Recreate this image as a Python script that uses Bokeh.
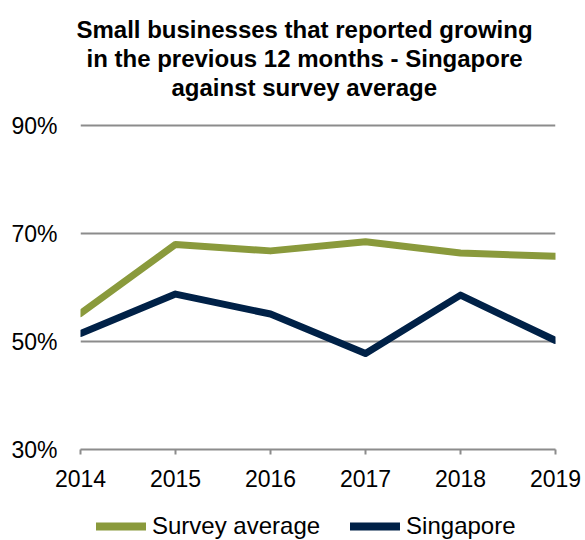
from bokeh.plotting import figure
from bokeh.layouts import column
from bokeh.models import Title, Legend, LegendItem, FixedTicker, PrintfTickFormatter, Range1d
from bokeh.embed import file_html
from bokeh.resources import INLINE

years = [2014, 2015, 2016, 2017, 2018, 2019]
survey_average = [55.2, 68.0, 66.8, 68.5, 66.4, 65.8]
singapore = [51.5, 58.8, 55.1, 47.8, 58.6, 50.2]
y_ticks = [30, 50, 70, 90]
series_names = ["Survey average", "Singapore"]
title_lines = [
    "Small businesses that reported growing",
    "in the previous 12 months - Singapore",
    "against survey average",
]
# horizontal offsets (px from the frame's left edge) so each line is centred at ~x=303
title_offsets = [-4, 6, 91]

GREEN = "#8A9A3C"
NAVY = "#002147"
GRID = "#8C8C8C"
FONT = "Liberation Sans"

p = figure(frame_width=475, frame_height=326, output_backend="svg", toolbar_location=None,
           x_range=Range1d(2014, 2019), y_range=Range1d(30, 90.4),
           min_border_left=80, min_border_right=30, min_border_top=123,
           min_border_bottom=0)
p.outline_line_color = None
p.background_fill_color = "white"
p.border_fill_color = "white"

def title_style(i):
    return dict(text=title_lines[i], align="left", offset=title_offsets[i],
                text_font=FONT, text_font_size="24px", text_font_style="bold",
                text_color="#000000", standoff=0)

# outermost line is the figure's own title; others are stacked from the frame outwards
p.title = Title(**title_style(0))
p.add_layout(Title(text=" ", text_font=FONT, text_font_size="19px", standoff=0), "above")
p.add_layout(Title(**title_style(2)), "above")
p.add_layout(Title(**title_style(1)), "above")

lines_style = dict(line_width=7, line_join="round", line_cap="round")
p.line(years, survey_average, line_color=GREEN, **lines_style)
p.line(years, singapore, line_color=NAVY, **lines_style)

# axes
p.xaxis.ticker = FixedTicker(ticks=years)
p.xaxis.axis_line_color = GRID
p.xaxis.axis_line_width = 2
p.xaxis.major_tick_line_color = GRID
p.xaxis.major_tick_line_width = 2
p.xaxis.major_tick_out = 5
p.xaxis.major_tick_in = 0
p.xaxis.minor_tick_line_color = None
p.xaxis.major_label_text_font = FONT
p.xaxis.major_label_text_font_size = "23px"
p.xaxis.major_label_text_color = "#000000"
p.xaxis.major_label_standoff = 15

p.yaxis.ticker = FixedTicker(ticks=y_ticks)
p.yaxis.formatter = PrintfTickFormatter(format="%d%%")
p.yaxis.axis_line_color = None
p.yaxis.major_tick_line_color = None
p.yaxis.minor_tick_line_color = None
p.yaxis.major_label_text_font = FONT
p.yaxis.major_label_text_font_size = "23px"
p.yaxis.major_label_text_color = "#000000"
p.yaxis.major_label_standoff = 17

p.xgrid.grid_line_color = None
p.ygrid.ticker = FixedTicker(ticks=y_ticks)
p.ygrid.grid_line_color = GRID
p.ygrid.grid_line_width = 2

# legend strip under the chart (its renderers hold the series, drawn off-range)
lg = figure(width=585, height=51, output_backend="svg", toolbar_location=None,
            x_range=Range1d(0, 1), y_range=Range1d(0, 1),
            x_axis_type=None, y_axis_type=None,
            min_border_left=80, min_border_right=30, min_border_top=0, min_border_bottom=0)
lg.outline_line_color = None
lg.xgrid.visible = False
lg.ygrid.visible = False
lg.background_fill_color = "white"
lg.border_fill_color = "white"
k1 = lg.line(years, survey_average, line_color=GREEN, line_width=8,
             line_join="round", line_cap="round")
k2 = lg.line(years, singapore, line_color=NAVY, line_width=8,
             line_join="round", line_cap="round")
legend = Legend(items=[LegendItem(label=series_names[0], renderers=[k1]),
                       LegendItem(label=series_names[1], renderers=[k2])],
                orientation="horizontal", location=(16, 0),
                label_text_font=FONT, label_text_font_size="24px",
                label_text_color="#000000",
                glyph_width=50, glyph_height=24, label_standoff=6, spacing=30,
                padding=0, margin=0, border_line_color=None,
                background_fill_alpha=0)
lg.add_layout(legend, "center")

layout = column(p, lg, spacing=0)
open("out.html", "w").write(file_html(layout, INLINE))
